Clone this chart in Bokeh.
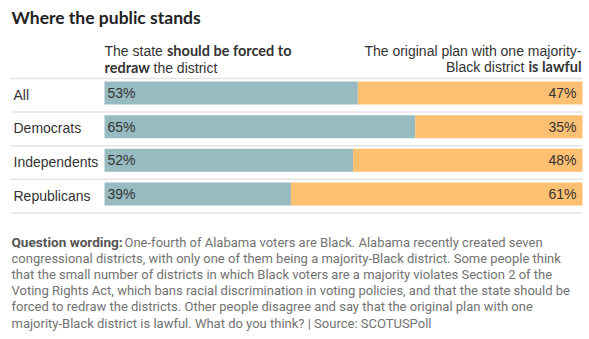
from bokeh.plotting import figure
from bokeh.models import Range1d, Label
from bokeh.core.properties import value
from bokeh.embed import file_html
from bokeh.resources import INLINE

# ---- data ----
groups = ["All", "Democrats", "Independents", "Republicans"]
forced = [53, 65, 52, 39]   # "should be forced to redraw"
lawful = [47, 35, 48, 61]   # "original plan is lawful"

title_text = "Where the public stands"
note_bold = "Question wording:"
note_lines = [
    "One-fourth of Alabama voters are Black. Alabama recently created seven",
    "congressional districts, with only one of them being a majority-Black district. Some people think",
    "that the small number of districts in which Black voters are a majority violates Section 2 of the",
    "Voting Rights Act, which bans racial discrimination in voting policies, and that the state should be",
    "forced to redraw the districts. Other people disagree and say that the original plan with one",
    "majority-Black district is lawful. What do you think? | Source: SCOTUSPoll",
]

TEAL = "#97bbc0"
ORANGE = "#fdbf72"
GRID = "#e4e4e4"
DARK = "#222222"
TXT = "#333333"
NOTE = "#727272"

W, H = 589, 339
X0 = 104.0           # pixel where 0% sits
PPX = 4.78           # pixels per percent
DY = -5              # baseline correction


def dx(px):
    return (px - X0) / PPX


p = figure(width=W, height=H, output_backend="svg", toolbar_location=None,
           x_range=Range1d(dx(0), dx(W)), y_range=Range1d(H, 0),
           x_axis_type=None, y_axis_type=None, min_border=0,
           outline_line_color=None, background_fill_color="white")
p.grid.visible = False

FONT = "Liberation Sans"
BOLD = "Lato"
NOTEF = "Roboto"

row_y = [92.5 + 33.67 * i for i in range(len(groups))]
totals = [f + l for f, l in zip(forced, lawful)]

# separators
sep_y = [78] + [y + 19 for y in row_y]
p.segment(x0=[dx(10)] * len(sep_y), x1=[dx(582)] * len(sep_y), y0=sep_y, y1=sep_y,
          line_color=GRID, line_width=1.5)

# bars
p.hbar(y=row_y, left=0, right=forced, height=23, fill_color=TEAL, line_color=None)
p.hbar(y=row_y, left=forced, right=totals, height=23, fill_color=ORANGE, line_color=None)

# value labels
p.text(x=[0] * len(groups), y=[y + 5 + DY for y in row_y], text=[f"{v}%" for v in forced],
       x_offset=3, text_font=value(FONT), text_font_size="14px", text_color=TXT,
       text_baseline="alphabetic", text_align="left")
p.text(x=totals, y=[y + 5 + DY for y in row_y], text=[f"{v}%" for v in lawful],
       x_offset=-6, text_font=value(FONT), text_font_size="14px", text_color=TXT,
       text_baseline="alphabetic", text_align="right")

# group labels
p.text(x=[0] * len(groups), y=[y + 6.5 + DY for y in row_y], text=groups,
       x_offset=-91, text_font=value(FONT), text_font_size="14px", text_color=TXT,
       text_baseline="alphabetic", text_align="left")


def lab(px, py, txt, size="14px", style="normal", color=TXT, align="left", font=FONT):
    p.add_layout(Label(x=dx(px), y=py + DY, text=txt, text_font=font, text_font_size=size,
                       text_font_style=style, text_color=color, text_align=align,
                       text_baseline="alphabetic"))


# title
lab(11, 22, title_text, size="17.5px", style="bold", color=DARK, font=BOLD)

# left header
lab(104, 55, "The state", size="14px")
lab(166.5, 55, "should be forced to", size="14.5px", style="bold", font=BOLD)
lab(104, 72, "redraw", size="14.5px", style="bold", font=BOLD)
lab(153, 72, "the district", size="14px")

# right header
lab(581, 55, "The original plan with one majority-", size="14px", align="right")
lab(581, 71, "is lawful", size="14.5px", style="bold", align="right", font=BOLD)
lab(524, 71, "Black district", size="14px", align="right")

# footnote
base = 246.5
step = 16.2
lab(11, base, note_bold, size="13.6px", style="bold", color="#555555", font=NOTEF)
for i, line in enumerate(note_lines):
    x = 124 if i == 0 else 11
    lab(x, base + i * step, line, size="13px", color=NOTE, font=NOTEF)

open("out.html", "w").write(file_html(p, INLINE))
